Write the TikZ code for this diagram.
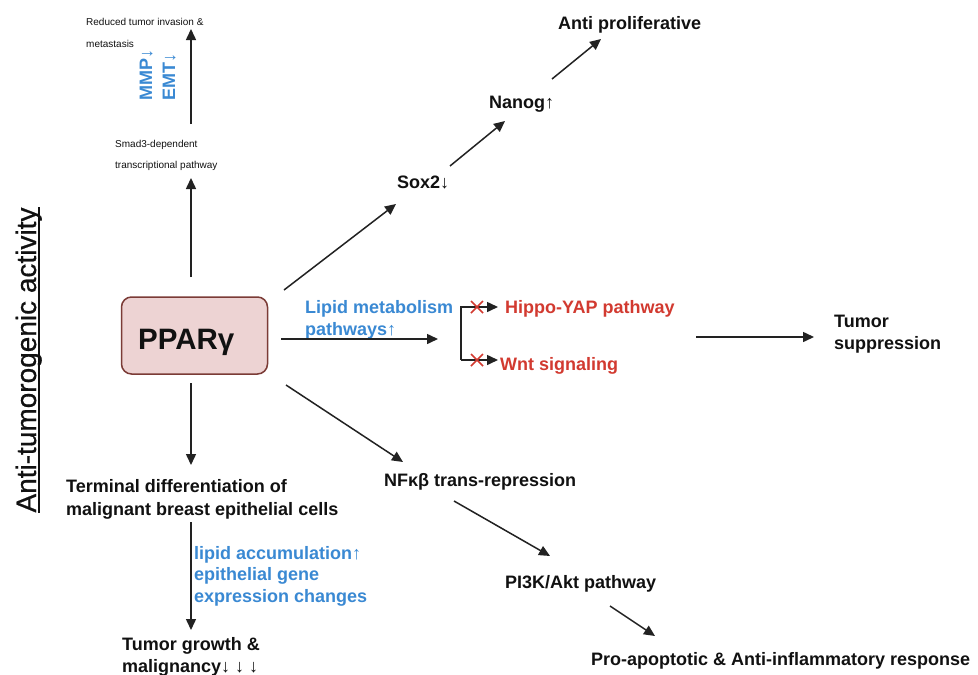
\documentclass[tikz,border=0pt]{standalone}
\usepackage{fontspec}
\setmainfont{Liberation Sans}
\newfontfamily\titlefont[FakeBold=0.6]{Liberation Sans}
\usetikzlibrary{arrows.meta}
\definecolor{txt}{HTML}{111111}
\definecolor{arrc}{HTML}{222222}
\definecolor{bluet}{HTML}{3A89D3}
\definecolor{redt}{HTML}{D23A30}
\definecolor{boxfill}{HTML}{EDD3D3}
\definecolor{boxline}{HTML}{7B3B36}
\tikzset{
  arr/.style={draw=arrc, line width=1.5pt, line join=miter, -{Triangle[length=11pt,width=10pt]}},
  lbl/.style={inner sep=0pt, anchor=base west, text=txt, font=\fontsize{18}{22}\selectfont\bfseries},
  bluelbl/.style={lbl, text=bluet},
  redlbl/.style={lbl, text=redt},
  small/.style={inner sep=0pt, anchor=base west, text=txt, font=\fontsize{10}{12}\selectfont},
  xmark/.style={draw=redt, line width=1.5pt},
}
\begin{document}
\begin{tikzpicture}[x=1pt,y=-1pt]
\useasboundingbox (0,0) rectangle (978,675);
\fill[white] (0,0) rectangle (978,675);

% title
\node[rotate=90, anchor=base, inner sep=0pt, text=txt, font=\titlefont\fontsize{28}{30}\selectfont] (ttl) at (36,360) {Anti-tumorogenic activity};
\draw[txt, line width=1.3pt] ([xshift=3pt]ttl.base west) -- ([xshift=3pt]ttl.base east);

% PPAR box
\node[draw=boxline, fill=boxfill, line width=1.5pt, rounded corners=10pt, minimum width=146pt, minimum height=77pt, inner sep=0pt] (ppar) at (194.5,335.5) {};
\node[inner sep=0pt, anchor=base west, text=txt, font=\fontsize{29.5}{32}\selectfont\bfseries] (ppartxt) at (138,349.5) {PPARγ};

% top column
\node[small] (smad1) at (115,147) {Smad3-dependent};
\node[small] (smad2) at (115,168) {transcriptional pathway};
\node[small] (red1) at (86,25) {Reduced tumor invasion \&};
\node[small] (red2) at (86,47) {metastasis};
\node[rotate=90, anchor=base, inner sep=0pt, text=bluet, font=\fontsize{18}{20}\selectfont\bfseries] (mmp) at (152,75) {MMP↓};
\node[rotate=90, anchor=base, inner sep=0pt, text=bluet, font=\fontsize{18}{20}\selectfont\bfseries] (emt) at (175,77) {EMT↓};
\coordinate (a1s) at (191,277);
\coordinate (a1e) at (191,178);
\coordinate (a2s) at (191,124);
\coordinate (a2e) at (191,29);
\draw[arr] (a1s) -- (a1e);
\draw[arr] (a2s) -- (a2e);

% upper right chain
\node[lbl] (sox) at (397,188.5) {Sox2↓};
\node[lbl] (nanog) at (489,108.5) {Nanog↑};
\node[lbl] (anti) at (558,29.5) {Anti proliferative};
\coordinate (b1s) at (284,290);
\coordinate (b1e) at (396,204);
\coordinate (b2s) at (450,166);
\coordinate (b2e) at (505,121);
\coordinate (b3s) at (552,79);
\coordinate (b3e) at (601,39);
\draw[arr] (b1s) -- (b1e);
\draw[arr] (b2s) -- (b2e);
\draw[arr] (b3s) -- (b3e);

% lipid metabolism
\node[bluelbl] (lip1) at (305,313) {Lipid metabolism};
\node[bluelbl] (lip2) at (305,335) {pathways↑};
\coordinate (c1s) at (281,339);
\coordinate (c1e) at (438,339);
\draw[arr] (c1s) -- (c1e);
\coordinate (bt) at (461,307);
\coordinate (bb) at (461,360);
\coordinate (hyt) at (498,307);
\coordinate (wnt) at (498,360);
\draw[arr] (bb) -- (bt) -- (hyt);
\draw[arr] (bb) -- (wnt);
\draw[xmark] (471,301) -- (483,313) (471,313) -- (483,301);
\draw[xmark] (471,354) -- (483,366) (471,366) -- (483,354);
\node[redlbl] (hippo) at (505,313) {Hippo-YAP pathway};
\node[redlbl] (wnts) at (500,370) {Wnt signaling};
\coordinate (d1s) at (696,337);
\coordinate (d1e) at (814,337);
\draw[arr] (d1s) -- (d1e);
\node[lbl] (ts1) at (834,327) {Tumor};
\node[lbl] (ts2) at (834,349) {suppression};

% down column
\coordinate (e1s) at (191,383);
\coordinate (e1e) at (191,465);
\draw[arr] (e1s) -- (e1e);
\node[lbl] (term1) at (66,492) {Terminal differentiation of};
\node[lbl] (term2) at (66,515) {malignant breast epithelial cells};
\coordinate (e2s) at (191,522);
\coordinate (e2e) at (191,630);
\draw[arr] (e2s) -- (e2e);
\node[bluelbl] (la1) at (194,559) {lipid accumulation↑};
\node[bluelbl] (la2) at (194,580.5) {epithelial gene};
\node[bluelbl] (la3) at (194,602) {expression changes};
\node[lbl] (tg1) at (122,650) {Tumor growth \&};
\node[lbl] (tg2) at (122,672) {malignancy↓ ↓ ↓};

% lower right chain
\coordinate (f1s) at (286,385);
\coordinate (f1e) at (403,462);
\draw[arr] (f1s) -- (f1e);
\node[lbl] (nf) at (384,486) {NFκβ trans-repression};
\coordinate (f2s) at (454,501);
\coordinate (f2e) at (550,556);
\draw[arr] (f2s) -- (f2e);
\node[lbl] (pi3k) at (505,588) {PI3K/Akt pathway};
\coordinate (f3s) at (610,606);
\coordinate (f3e) at (655,636);
\draw[arr] (f3s) -- (f3e);
\node[lbl] (pro) at (591,665) {Pro-apoptotic \& Anti-inflammatory response};
\end{tikzpicture}
\end{document}
